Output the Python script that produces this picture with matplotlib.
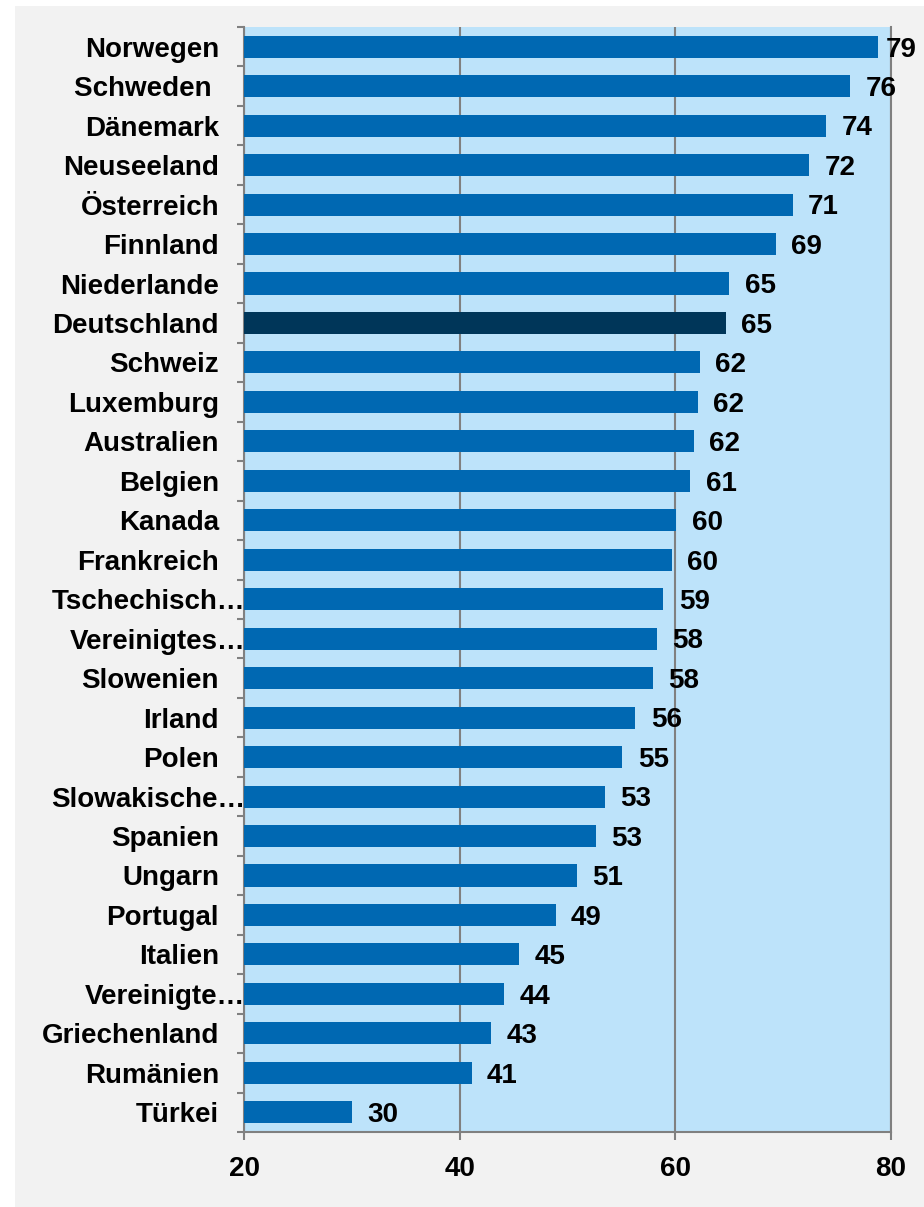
import matplotlib.pyplot as plt
import matplotlib.transforms as mtransforms
from matplotlib.patches import Rectangle
import numpy as np

plt.rcParams['font.family'] = ['Liberation Sans', 'DejaVu Sans']

countries = ['Norwegen', 'Schweden ', 'Dänemark', 'Neuseeland', 'Österreich', 'Finnland',
             'Niederlande', 'Deutschland', 'Schweiz', 'Luxemburg', 'Australien', 'Belgien',
             'Kanada', 'Frankreich', 'Tschechisch…', 'Vereinigtes…', 'Slowenien', 'Irland',
             'Polen', 'Slowakische…', 'Spanien', 'Ungarn', 'Portugal', 'Italien',
             'Vereinigte…', 'Griechenland', 'Rumänien', 'Türkei']
values = [78.8, 76.2, 74.0, 72.4, 70.9, 69.3, 65.0, 64.7, 62.3, 62.1, 61.7, 61.4,
          60.1, 59.7, 58.9, 58.3, 57.9, 56.3, 55.1, 53.5, 52.6, 50.9, 48.9, 45.5,
          44.1, 42.9, 41.1, 30.0]
value_labels = ['79', '76', '74', '72', '71', '69', '65', '65', '62', '62', '62', '61',
                '60', '60', '59', '58', '58', '56', '55', '53', '53', '51', '49', '45',
                '44', '43', '41', '30']
highlight = 'Deutschland'
x_ticks = [20, 40, 60, 80]

bar_color = '#0068b2'
dark_color = '#003659'
grid_color = '#808080'

fig = plt.figure(figsize=(9.24, 12.07), dpi=100)
fig.patch.set_facecolor('white')
fig.patches.append(Rectangle((15 / 924, 0), 1, 1 - 6 / 1207, transform=fig.transFigure,
                             facecolor='#f2f2f2', edgecolor='none', zorder=-10))

ax = fig.add_axes([244 / 924, 1 - 1132 / 1207, (891 - 244) / 924, (1132 - 27) / 1207])
ax.set_facecolor('#bde3fa')

y = np.arange(len(countries))
colors = [dark_color if c == highlight else bar_color for c in countries]
bars = ax.barh(y, np.array(values) - 20, left=20, height=0.56, color=colors, zorder=3)

ax.set_xlim(20, 80)
ax.set_ylim(len(countries) - 0.5, -0.5)

# value labels, kept inside the chart area like the original
renderer = fig.canvas.get_renderer()
for yi, v, lab in zip(y, values, value_labels):
    t = ax.annotate(lab, (v, yi), xytext=(11, -2), textcoords='offset points',
                    ha='left', va='center', fontsize=20, fontweight='bold',
                    annotation_clip=False, zorder=4)
    bb = t.get_window_extent(renderer)
    limit = 917
    if bb.x1 > limit:
        t.xyann = (11 - (bb.x1 - limit) * 72 / 100, -2)

ax.set_xticks(x_ticks)
ax.set_xticklabels([str(t) for t in x_ticks], fontsize=20, fontweight='bold')
ax.tick_params(axis='x', length=6, width=1.5, color=grid_color, pad=11)

ax.set_yticks(y)
ax.set_yticklabels(countries, fontsize=20, fontweight='bold')
ax.set_yticks(np.arange(len(countries) + 1) - 0.5, minor=True)
ax.tick_params(axis='y', which='major', length=0, pad=18)
ax.tick_params(axis='y', which='minor', length=5, width=1.5, color=grid_color)

shift = mtransforms.ScaledTranslation(26 / 100, 0, fig.dpi_scale_trans)
for lbl in ax.get_yticklabels():
    if lbl.get_text().endswith('…'):
        lbl.set_transform(lbl.get_transform() + shift)

ax.grid(axis='x', color=grid_color, linewidth=1.5, zorder=1)
ax.set_axisbelow(True)
for side in ['left', 'bottom', 'right']:
    ax.spines[side].set_color(grid_color)
    ax.spines[side].set_linewidth(1.5)
ax.spines['top'].set_visible(False)

fig.savefig('out.png', dpi=100)
